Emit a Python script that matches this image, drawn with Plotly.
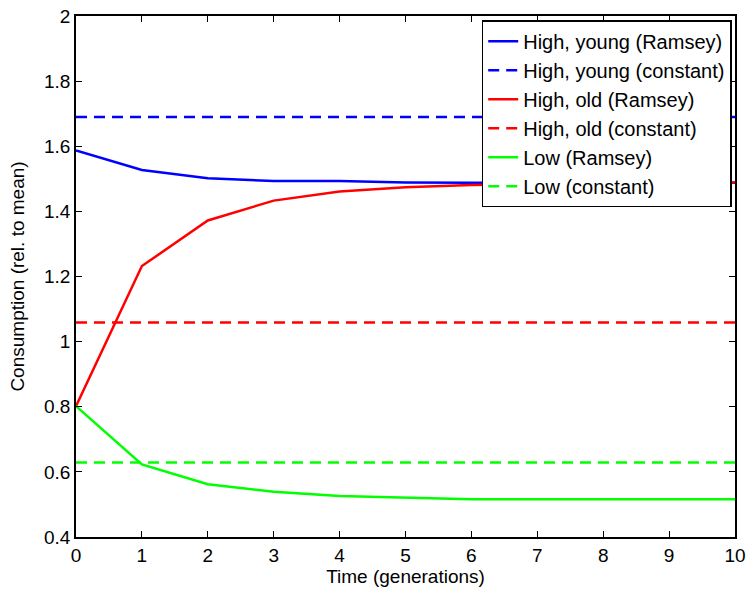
import plotly.graph_objects as go

t = [0, 1, 2, 3, 4, 5, 6, 7, 8, 9, 10]
high_young_ramsey = [1.587, 1.527, 1.502, 1.493, 1.493, 1.489, 1.488, 1.488, 1.488, 1.488, 1.488]
high_young_const = 1.69
high_old_ramsey = [0.802, 1.232, 1.372, 1.433, 1.461, 1.474, 1.481, 1.485, 1.487, 1.488, 1.489]
high_old_const = 1.059
low_ramsey = [0.802, 0.623, 0.562, 0.539, 0.526, 0.520, 0.516, 0.516, 0.516, 0.516, 0.516]
low_const = 0.629

BLUE = "#0000ff"
RED = "#ff0000"
GREEN = "#00ff00"
DASH = "11px,7px"

fig = go.Figure()
series = [
    ("High, young (Ramsey)", high_young_ramsey, BLUE, "solid"),
    ("High, young (constant)", [high_young_const] * len(t), BLUE, DASH),
    ("High, old (Ramsey)", high_old_ramsey, RED, "solid"),
    ("High, old (constant)", [high_old_const] * len(t), RED, DASH),
    ("Low (Ramsey)", low_ramsey, GREEN, "solid"),
    ("Low (constant)", [low_const] * len(t), GREEN, DASH),
]
for name, ys, col, dash in series:
    fig.add_trace(go.Scatter(x=t, y=ys, mode="lines", name=name,
                             line=dict(color=col, width=2.5, dash=dash)))

axis_common = dict(showline=True, linecolor="black", linewidth=1.5, mirror="ticks",
                   ticks="inside", ticklen=6, tickcolor="black", showgrid=False,
                   zeroline=False, automargin=False,
                   tickfont=dict(size=19, color="black"))

fig.update_layout(
    width=746, height=592,
    margin=dict(l=76, r=11, t=16, b=55),
    paper_bgcolor="white", plot_bgcolor="white",
    font=dict(family="Liberation Sans, Arial, sans-serif", size=19, color="black"),
    xaxis=dict(range=[0, 10], dtick=1, tick0=0,
               title=dict(text="Time (generations)", standoff=4, font=dict(size=19)),
               **axis_common),
    yaxis=dict(range=[0.4, 2], dtick=0.2, tick0=0.4,
               title=dict(text="Consumption (rel. to mean)", standoff=14, font=dict(size=19)),
               **axis_common),
    legend=dict(x=0.995, y=0.992, xanchor="right", yanchor="top",
                bordercolor="black", borderwidth=1.5, bgcolor="white",
                font=dict(size=20), tracegroupgap=0),
    showlegend=True,
)

fig.write_html("out.html")
